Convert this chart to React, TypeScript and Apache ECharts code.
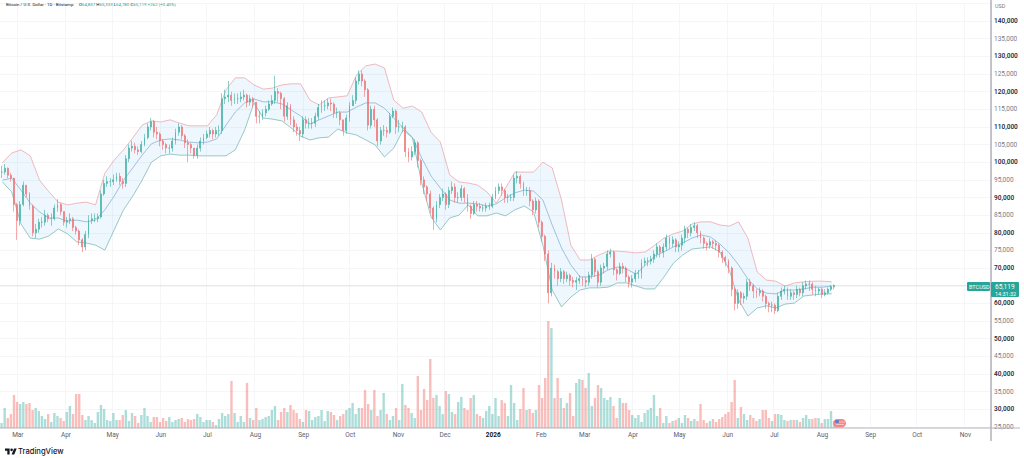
import React, { useEffect, useRef } from "react";
import * as echarts from "echarts";

const monthTicks: [string, string][] = [
  ["2025-03-01", "Mar"], ["2025-04-01", "Apr"], ["2025-05-01", "May"], ["2025-06-01", "Jun"], ["2025-07-01", "Jul"],
  ["2025-08-01", "Aug"], ["2025-09-01", "Sep"], ["2025-10-01", "Oct"], ["2025-11-01", "Nov"], ["2025-12-01", "Dec"],
  ["2026-01-01", "2026"], ["2026-02-01", "Feb"], ["2026-03-01", "Mar"], ["2026-04-01", "Apr"], ["2026-05-01", "May"],
  ["2026-06-01", "Jun"], ["2026-07-01", "Jul"], ["2026-08-01", "Aug"], ["2026-09-01", "Sep"], ["2026-10-01", "Oct"], ["2026-11-01", "Nov"],
];

// two-day candles, thousands of USD
const closes = [
  97.2,98.3,96.3,95.5,88,83.5,88,93.5,91,87.5, 80,81,83,83,85,84,84,87,88,86,
  83,83.5,84,81.5,80.5,78,76,79.5,83.5,84, 84,84.5,91,94,94.5,94.5,95,96,94.5,94,
  101,104,104.5,103.5,103,105,107,110,111.5,108.5, 108,106,105,104,104,106,108.5,110,107.5,105.5,
  105,104,102,104,106,107,108,109,108,109, 109,118,118.5,119,117.5,118,118,118.5,119,117,
  118,117,113,113,114,115,116.5,117.5,120,119.5, 118,113,116,112,110,109,108,112,111,111,
  111,113,115.5,116,116,116.8,116.5,114,114,112, 109,112.5,116,117.5,123,125,123,120.5,110.5,115,
  112,106,109,109,108.5,113,114.5,110,110,110, 103,101.5,103,105.5,100.5,95,93,91,87,84,
  88,90,91,88,92,93,90,90,92.5,90, 87.5,85.5,88,87.5,87,87,87.5,87.5,90,92,
  93,92,90,90,90,95.5,96,94,92,92, 89,86.5,89,83,79,74,63,70,69,67,
  69,67,68,66.5,66,66.5,67,66.5,66,68, 72.5,69,66,70,70.5,74,74.5,69.5,68.5,70.5,
  70,67.5,66,67,68.5,68.5,71.5,72,72,72.5, 74,76,74.5,76,78.5,77,78,76,76.5,78.5,
  81,80,81.5,82,80,78.5,77,76.5,77.5,77, 76.5,74.5,73,72,70,64,60,63,61.5,62,
  66,65,63.5,63,63.5,62,60,59.5,59.5,58, 62,63.5,64,62,63,62.5,64,63,65,65.5,
  65.5,64,63.5,64,62.5,63,64,64.7,65.1,
];
const highs = [
  99,99.5,98.5,97,95.5,88.5,89,94.5,93.5,91.5, 88,82.5,84,84.5,86.5,85.5,85.5,88,89.5,88.5,
  86,84.5,85.5,84.5,82,81,78.5,80.5,85,85.5, 85.5,85.5,92,95,96,95.5,96.5,97,97,95.5,
  102,105,106,105.5,104.5,106,108,111,112.5,112, 110,108.5,106.5,105.5,105,107,109.5,111,110.5,108,
  106.5,105.5,104,105,107,108,109,110,109.5,110, 110.5,119.5,120.5,123,120,119.5,119.5,120,120.5,119.5,
  119,118.5,117,114.5,115,116,117.5,119,124.5,121, 120,118.5,117,116.5,113,111,110,113,113,112.5,
  112.5,114,116.5,117.5,117.5,118,118,117,115.5,114.5, 112,113.5,117,119,124,126,126,123.5,121,116,
  116,112.5,110,110.5,110,114,115.5,115,112,111.5, 110.5,104,104.5,106.5,106,101,96,93.5,92,87.5,
  89,91,92.5,91.5,93,94.5,94,91.5,93.5,93, 91,88,89,89,88.5,88,88.5,88.5,91,93,
  94,94,92.5,91,91,96.5,97.5,96.5,94.5,93, 93,89.5,90,89.5,83.5,79.5,75,71.5,71,69.5,
  70,69.5,69,68.5,67.5,67.5,68,67.5,67.5,69, 74,73,69.5,71,71.5,75,75.5,75,70,71.5,
  71.5,70.5,68,68,69.5,69.5,72.5,73,73,73.5, 75,77,76.5,77,79.5,79,79,78.5,77.5,79.5,
  82,81.5,82.5,83,82.5,80.5,79,77.5,78.5,78, 78,77,75,73.5,72.5,70.5,64.5,64,63.5,63,
  67,67,65.5,64,64.5,64,62.5,60.5,60.5,60, 63,64.5,65,64.5,64,63.5,65,64.5,66,66.5,
  66.5,66,65,64.5,64.5,64,64.5,65.2,65.4,
];
const lows = [
  95.5,96.5,95.5,94.5,86,78,82,87.5,90,86.5, 79,78.5,80,81.5,82,83,82,83.5,86,85,
  82,81.5,82.5,80.5,79.5,76.5,74.5,75,78.5,82.5, 83,83,84,90.5,93,93,93.5,94.5,93.5,92.5,
  93,100,103,102.5,102,102.5,104.5,106.5,109,107, 106.5,104.5,103.5,102.5,102.5,103,105,107.5,106.5,104,
  100,102.5,101,101,103,105,106.5,107,106.5,107, 107.5,108,116.5,117,116,116.5,116.5,117,117.5,115.5,
  116,115.5,111,111,112,113,114.5,116,116.5,117, 115,111.5,112,110.5,108.5,107.5,106,107,109.5,109.5,
  109.5,110,112,114,114.5,115,114.5,112.5,112.5,110.5, 107.5,108,111.5,116,116.5,122,121.5,118.5,109,109.5,
  110,104.5,105,107.5,107,108,112.5,108,108.5,108.5, 101.5,100,100.5,102,98.5,93.5,91,89,85.5,80.8,
  83,87,89,86.5,87,91,88.5,88.5,89,88.5, 86,84,85,86,86,86,86,86.5,87,89.5,
  91,90.5,88.5,88.5,89,89,94,92.5,90.5,90.5, 87.5,85,85.5,81.5,77.5,72,60,62,67,65,
  66,65.5,66,65,64.5,63.8,65.5,65,64.5,65, 67,67.5,64.5,65,68.5,69.5,73,68,66.5,68,
  68.5,66,64.5,64.5,66,67,67,70.5,70.5,71, 71.5,73,73,73,75,75.5,76,74.5,74.5,75,
  77,78.5,79,80.5,78.5,77,75.5,75,75.5,75.5, 75,73,71.5,70.5,68.5,62,58,58.5,59.5,60,
  61,63.5,61.5,61.5,62,60.5,58.5,57.5,57.5,57, 57.5,61,62.5,61,61,61,61.5,62,62,64,
  63.5,62.5,62,62.5,61.5,62,62.5,63.5,64,
];
const volumes = [
  5,20,10,14,33,26,24,26,24,25, 18,20,17,12,9,14,6,15,12,10,
  7,16,22,14,34,34,13,8,12,8, 5,16,23,19,8,7,15,8,8,13,
  18,7,15,12,5,13,20,12,6,11, 11,6,10,7,11,6,8,9,10,6,
  9,8,9,14,11,6,8,8,6,3, 9,15,12,14,47,15,6,12,6,45,
  10,8,20,8,9,11,12,18,22,8, 16,20,16,23,18,15,9,6,18,17,
  8,11,12,18,7,17,16,13,8,12, 14,18,20,25,14,20,20,38,24,18,
  38,12,18,35,14,8,12,20,8,44, 23,20,15,10,52,18,39,28,69,30,
  33,22,14,37,34,16,14,26,31,20, 18,30,33,14,12,10,17,22,14,30,
  12,28,25,12,43,25,8,19,40,18, 19,15,18,43,30,50,107,100,30,50,
  30,20,25,35,12,45,49,48,40,55, 22,30,43,40,30,28,31,22,10,30,
  25,25,18,13,10,13,6,15,18,20, 33,12,20,5,12,5,7,8,10,5,
  13,10,7,9,7,24,8,5,7,9, 6,9,11,14,16,26,48,10,21,14,
  8,13,10,7,9,18,18,10,7,14, 14,13,8,7,8,8,8,6,10,13,
  9,9,10,10,5,9,9,17,7,
];

// Bollinger bands read every six days
const bandUpper = [
  99.8,102.6,103.5,101.8,94.9,91.6,88.7,87.9,88.4,88.7,87.9,96.9,100.6,103.5,106.9,110.5,111.7,111.4,112,111.1,
  110.3,110.3,110.3,113.4,120.5,123.9,123.9,121.9,120.7,121,121.9,122.2,122.2,117.6,116.2,118.2,118.5,118.8,124.7,127.3,
  127.8,126.7,117.6,115.3,115.9,114.2,108.5,105.7,96.4,94.4,94.1,93.5,91.6,88.4,92.7,97.2,97.2,97.2,100,98.4,
  89.3,76.5,72.3,72.3,73.7,74.8,74.8,74.6,74.3,74.6,76.5,78.5,79.7,80.5,82.5,83.1,83.1,82.2,81.9,83.1,
  78.5,68.9,66.6,66.3,64.9,65.8,66.1,66.3,66.3,66.1,
];
const bandMiddle = [
  94.9,95.5,92.1,88.4,85.9,84.2,84.2,83.3,83.6,83.1,83.6,86.5,90.4,94.9,98.4,102,105.2,106.3,106.6,106.3,
  105.7,105.5,105.7,106.6,110.5,114.2,116.8,117.9,117.1,117.1,116.5,114.8,113.1,110.8,112,113.1,114.2,114.2,115.6,116.8,
  116.8,115.3,112.5,109.7,107.1,101.2,96.1,92.7,89.3,88.4,88.4,88.2,87.6,88.2,89.9,91.3,92.1,91.8,89.3,82.2,
  75.7,70.9,67.5,67.5,68,69.5,70.3,69.7,68.3,70.9,73.4,74.6,76,77.1,78.5,79.4,78.8,76.8,74.3,70.9,
  66.9,64.1,62.9,62.7,63.8,63.8,64.1,64.6,64.6,64.9,
];
const bandLower = [
  94.4,91.6,82.5,78.5,78.2,79.1,81.1,79.7,77.4,77.1,76.5,75.1,80.8,86.5,90.4,94.9,100,101.8,102.3,102,
  102,101.8,101.8,101.8,101.8,103.5,109.1,116.8,112.5,112.2,111.7,109.7,107.4,106.3,106.9,107.1,109.4,108.3,107.7,106.3,
  104.9,101.5,104,109.1,106.9,94.1,84.5,80.8,84.2,85,87.9,84.8,84.8,85.6,84.8,86.5,87.6,85.9,76.5,63.8,
  59,61.8,63.8,64.4,64.4,64.6,65.8,65.8,64.9,64.1,64.1,67.5,71.4,73.7,75.4,75.7,76,74.6,69.5,61,
  56.4,58.7,59.3,58.7,59.8,60.1,62.1,62.4,62.7,62.7,
];

const lastClose = 65.119;
const headerTitle = "Bitcoin / U.S. Dollar · 1D · Bitstamp";
const ohlc: [string, string][] = [["O", "64,857"], ["H", "65,333"], ["L", "64,780"], ["C", "65,119"]];
const changeText = "+262 (+0.40%)";

const UP = "#26a69a";
const DOWN = "#ef5350";
const CANDLE_UP = "#3fae9f";
const CANDLE_DOWN = "#ee6f72";
const DAYS = 638;
const FONT = "Roboto, sans-serif";

const dayLabels = Array.from({ length: DAYS }, (_, i) =>
  new Date(Date.UTC(2025, 1, 18 + i)).toISOString().slice(0, 10)
);
const tickMap = new Map(monthTicks);
const binLabels = Array.from({ length: Math.floor(DAYS / 2) }, (_, i) => dayLabels[i * 2]);
const opens = closes.map((c, i) => (i === 0 ? c : closes[i - 1]));
const bandDays = bandUpper.map((_, j) => 1 + 6 * j);

const LOGO = "M14 22H7V11H0V4h14v18zM28 22h-8l7.5-18h8L28 22zM24 8a4 4 0 1 1-8 0a4 4 0 0 1 8 0z";
echarts.graphic.registerShape("tvlogo", echarts.graphic.extendPath(LOGO, {}) as any);

export default function App() {
  const ref = useRef<HTMLDivElement>(null);
  useEffect(() => {
    document.body.style.margin = "0";
    const chart = echarts.init(ref.current!, null, { renderer: "svg" });
    const bandLine = (name: string, values: number[], color: string) => ({
      name, type: "line", xAxisIndex: 2, yAxisIndex: 0, showSymbol: false, symbol: "none", z: 3,
      data: values.map((v, j) => [bandDays[j], v]),
      lineStyle: { color, width: 0.75 }, silent: true,
    });
    const richText = (ohlc.map(([k, v]) => `{k|${k}}{v|${v}}`).join(" ")) + ` {v|${changeText}}`;
    chart.setOption({
      animation: false,
      backgroundColor: "#ffffff",
      grid: [
        { left: 0, width: 991, top: 3.35, height: 423.6, containLabel: false },
        { left: 0, width: 991, top: 318, height: 110 },
      ],
      xAxis: [
        {
          type: "category", gridIndex: 0, data: dayLabels, boundaryGap: true,
          axisLine: { show: false }, axisTick: { show: false },
          splitLine: {
            show: true, lineStyle: { color: "#f3f4f6", width: 0.8 },
            interval: (_: number, v: string) => tickMap.has(v),
          },
          axisLabel: {
            interval: (_: number, v: string) => tickMap.has(v),
            formatter: (v: string) => {
              const s = tickMap.get(v) ?? "";
              return s === "2026" ? `{y|${s}}` : s;
            },
            margin: 5, fontSize: 6.5, fontFamily: FONT, color: "#5d606b",
            rich: { y: { fontSize: 6.5, fontWeight: 700, color: "#131722", fontFamily: FONT } },
          },
        },
        { type: "category", gridIndex: 0, data: binLabels, show: false },
        { type: "value", gridIndex: 0, min: -0.5, max: DAYS - 0.5, show: false, splitLine: { show: false } },
        { type: "category", gridIndex: 1, data: binLabels, show: false },
      ],
      yAxis: [
        {
          type: "value", gridIndex: 0, position: "right", min: 25, max: 145, interval: 5,
          axisLine: { show: false }, axisTick: { show: false },
          splitLine: { show: true, lineStyle: { color: "#f3f4f6", width: 0.8 } },
          axisLabel: {
            margin: 3, align: "left",
            formatter: (v: number) => {
              if (v > 140) return "";
              const s = `${v},000`;
              return v % 10 === 0 ? `{b|${s}}` : `{l|${s}}`;
            },
            rich: {
              b: { fontSize: 6.5, fontWeight: 600, color: "#2a2e39", fontFamily: FONT },
              l: { fontSize: 6.5, color: "#787b86", fontFamily: FONT },
            },
          },
        },
        { type: "value", gridIndex: 1, min: 0, max: 110, show: false, splitLine: { show: false } },
      ],
      series: [
        {
          name: "Volume", type: "bar", xAxisIndex: 3, yAxisIndex: 1, barWidth: 2.4, z: 1, silent: true,
          data: volumes.map((v, i) => ({
            value: v,
            itemStyle: { color: closes[i] >= opens[i] ? "rgba(38,166,154,0.38)" : "rgba(239,83,80,0.38)" },
          })),
        },
        {
          name: "bandFill", type: "custom", xAxisIndex: 2, yAxisIndex: 0, z: 2, silent: true,
          data: [[bandDays[0], bandUpper[0]]],
          renderItem: (_: any, api: any) => {
            const top = bandUpper.map((v, j) => api.coord([bandDays[j], v]));
            const bottom = bandLower.map((v, j) => api.coord([bandDays[j], v])).reverse();
            return {
              type: "polygon",
              shape: { points: [...top, ...bottom] },
              style: { fill: "rgba(33,150,243,0.08)" },
            };
          },
        },
        bandLine("Upper", bandUpper, "#eba3a6"),
        bandLine("Basis", bandMiddle, "#86adcf"),
        bandLine("Lower", bandLower, "#77b7b2"),
        {
          name: "BTCUSD", type: "candlestick", xAxisIndex: 1, yAxisIndex: 0, z: 4, barWidth: 1.4, silent: true,
          data: closes.map((c, i) => [opens[i], c, lows[i], highs[i]]),
          itemStyle: { color: CANDLE_UP, color0: CANDLE_DOWN, borderColor: CANDLE_UP, borderColor0: CANDLE_DOWN, borderWidth: 0.6 },
          markLine: {
            silent: true, symbol: "none", label: { show: false },
            lineStyle: { color: UP, width: 0.5, type: "dotted", opacity: 0.7 },
            data: [{ yAxis: lastClose }],
          },
        },
      ],
      graphic: [
        { type: "line", z: 10, shape: { x1: 991, y1: 0, x2: 991, y2: 441 }, style: { stroke: "#8a8d96", lineWidth: 1 } },
        { type: "line", z: 10, shape: { x1: 0, y1: 428, x2: 1020, y2: 428 }, style: { stroke: "#b2b5be", lineWidth: 1 } },
        { type: "text", z: 10, x: 995, y: 3, style: { text: "USD", fontSize: 5.5, fill: "#787b86", fontFamily: FONT } },
        { type: "text", z: 10, x: 6, y: 2, style: { text: headerTitle, fontSize: 4.4, fill: "#131722", fontFamily: FONT } },
        {
          type: "text", z: 10, x: 79, y: 2,
          style: {
            text: richText, fontSize: 4.4, fontFamily: FONT, fill: UP,
            rich: {
              k: { fontSize: 4.4, fill: "#131722", fontFamily: FONT },
              v: { fontSize: 4.4, fill: UP, fontFamily: FONT },
            },
          },
        },
        { type: "rect", z: 11, shape: { x: 967, y: 282, width: 23, height: 9, r: 1 }, style: { fill: UP } },
        { type: "text", z: 12, x: 969, y: 283.5, style: { text: "BTCUSD", fontSize: 5.5, fill: "#ffffff", fontFamily: FONT } },
        { type: "rect", z: 11, shape: { x: 991, y: 282, width: 28, height: 15, r: 1 }, style: { fill: UP } },
        { type: "text", z: 12, x: 995, y: 283.5, style: { text: "65,119", fontSize: 6.5, fill: "#ffffff", fontFamily: FONT } },
        { type: "text", z: 12, x: 995, y: 290.5, style: { text: "14:31:32", fontSize: 5.5, fill: "#ffffff", fontFamily: FONT } },
        { type: "rect", z: 11, shape: { x: 833, y: 419, width: 13, height: 8.5, r: 4.2 }, style: { fill: "#f6868b" } },
        { type: "rect", z: 12, shape: { x: 835, y: 420, width: 4, height: 3, r: 1 }, style: { fill: "#5d7fc9" } },
        { type: "line", z: 12, shape: { x1: 839, y1: 422, x2: 845, y2: 422 }, style: { stroke: "#fbe6e6", lineWidth: 0.6 } },
        { type: "line", z: 12, shape: { x1: 836, y1: 424.5, x2: 844, y2: 424.5 }, style: { stroke: "#fbe6e6", lineWidth: 0.6 } },
        { type: "tvlogo", z: 10, x: 5, y: 447.2, scaleX: 0.33, scaleY: 0.33, style: { fill: "#131722" } },
        { type: "text", z: 10, x: 18, y: 447, style: { text: "TradingView", fontSize: 7.6, fontWeight: 500, fill: "#131722", fontFamily: "Inter, sans-serif" } },
      ],
    });
    return () => chart.dispose();
  }, []);
  return <div ref={ref} style={{ width: 1024, height: 458 }} />;
}
